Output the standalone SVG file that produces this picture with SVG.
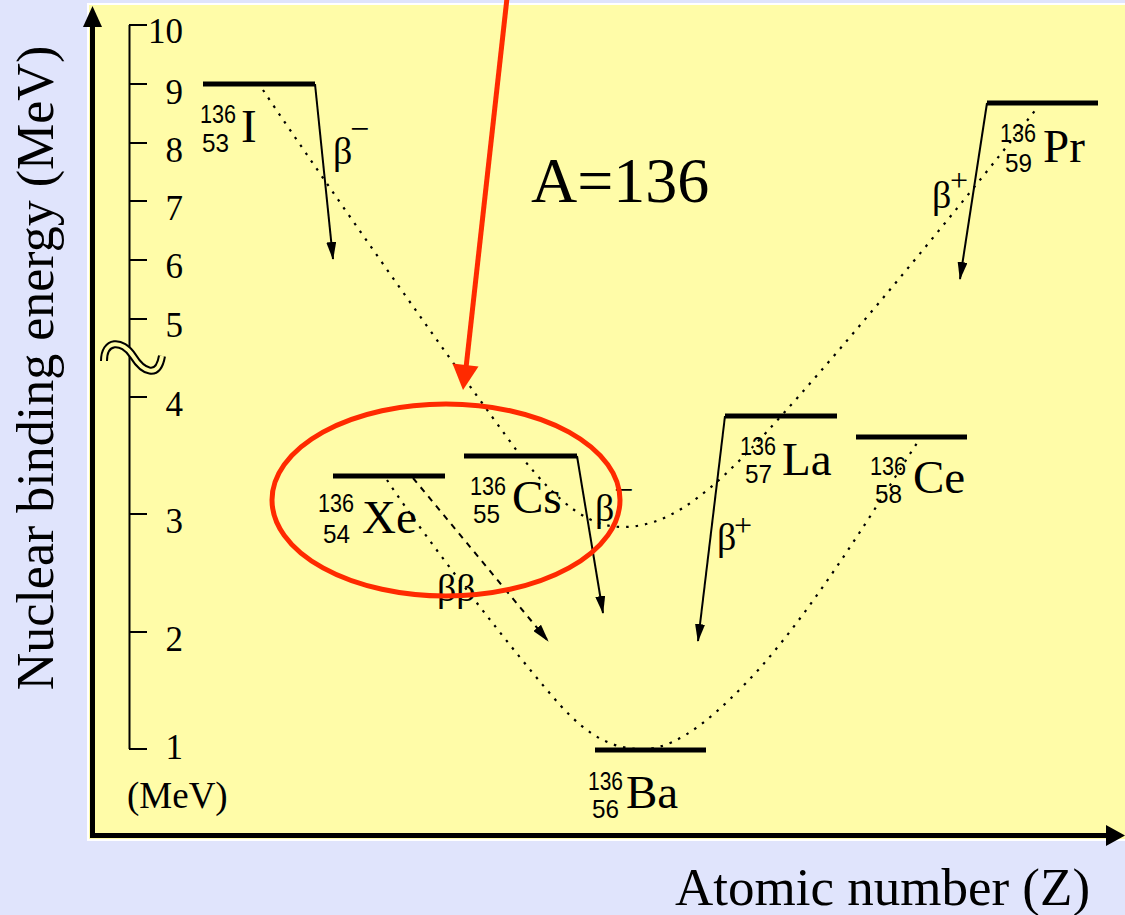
<svg xmlns="http://www.w3.org/2000/svg" width="1125" height="915" viewBox="0 0 1125 915">
<defs>
<style>
.lvl{stroke:#000;stroke-width:5;fill:none}
.dec{stroke:#000;stroke-width:2;fill:none}
.dot{stroke:#000;stroke-width:2.2;fill:none;stroke-dasharray:2.5 7}
.dash{stroke:#000;stroke-width:2;fill:none;stroke-dasharray:6 6}
.ax{stroke:#000;stroke-width:5;fill:none}
.sc{stroke:#000;stroke-width:2;fill:none}
.el{font-family:"Liberation Serif",serif;font-size:47px;fill:#000}
.iso{font-family:"Liberation Sans",sans-serif;font-size:25px;fill:#000}
.tk{font-family:"Liberation Serif",serif;font-size:35px;text-anchor:end;fill:#000}
.beta{font-family:"Liberation Serif",serif;font-size:38px;fill:#000}
.big{font-family:"Liberation Serif",serif;fill:#000}
.red{stroke:#ff2a00;stroke-width:5;fill:none}
</style>
<marker id="ah" markerUnits="userSpaceOnUse" markerWidth="18" markerHeight="10" refX="17" refY="5" orient="auto">
<path d="M0,0 L18,5 L0,10 z" fill="#000"/>
</marker>
</defs>
<rect x="0" y="0" width="1125" height="915" fill="#e0e4fc"/>
<rect x="88" y="4" width="1045" height="836" fill="#fffca8" stroke="#fff" stroke-width="2"/>

<g id="axes">
<line class="ax" x1="92.5" y1="838" x2="92.5" y2="22"/>
<polygon points="83,27 92.5,6 102,27" fill="#000"/>
<line class="ax" x1="90" y1="835.5" x2="1110" y2="835.5"/>
<polygon points="1106,825 1125,835.5 1106,846" fill="#000"/>
<text class="big" font-size="52" text-anchor="middle" transform="translate(53,368) rotate(-90)">Nuclear binding energy (MeV)</text>
<text class="big" font-size="53" x="675" y="905">Atomic number (Z)</text>
</g>

<g id="scale">
<line class="sc" x1="129.5" y1="25" x2="129.5" y2="749"/>
<line class="sc" x1="129" y1="25" x2="147" y2="25"/>
<line class="sc" x1="129" y1="84" x2="147" y2="84"/>
<line class="sc" x1="129" y1="143" x2="147" y2="143"/>
<line class="sc" x1="129" y1="201" x2="147" y2="201"/>
<line class="sc" x1="129" y1="260" x2="147" y2="260"/>
<line class="sc" x1="129" y1="319" x2="147" y2="319"/>
<line class="sc" x1="129" y1="397" x2="147" y2="397"/>
<line class="sc" x1="129" y1="514" x2="147" y2="514"/>
<line class="sc" x1="129" y1="632" x2="147" y2="632"/>
<line class="sc" x1="129" y1="749" x2="147" y2="749"/>
<text class="tk" x="183" y="43">10</text>
<text class="tk" x="183" y="104">9</text>
<text class="tk" x="183" y="162">8</text>
<text class="tk" x="183" y="220">7</text>
<text class="tk" x="183" y="278">6</text>
<text class="tk" x="183" y="337">5</text>
<text class="tk" x="183" y="416">4</text>
<text class="tk" x="183" y="533">3</text>
<text class="tk" x="183" y="651">2</text>
<text class="tk" x="183" y="759">1</text>
<text class="big" font-size="37" x="127" y="808">(MeV)</text>
<path d="M104,361 C104,340 122,339 133,356 C143,372 158,379 162,356" stroke="#000" stroke-width="8" fill="none"/>
<path d="M104,361 C104,340 122,339 133,356 C143,372 158,379 162,356" stroke="#fffca8" stroke-width="4" fill="none"/>
<text class="big" font-size="64" x="531" y="202">A=136</text>
</g>

<g id="connectors">
<path class="dot" d="M263,90 C330,190 450,360 520,455 C560,505 590,528 625,527 C665,526 700,500 740,460 C800,400 950,220 1037,108"/>
<path class="dot" d="M387,480 C430,545 520,660 560,705 C590,738 615,750 645,749 C680,748 720,712 760,668 C820,600 880,500 917,443"/>
<line class="dec" x1="315" y1="84" x2="333" y2="259" marker-end="url(#ah)"/>
<line class="dec" x1="577" y1="456" x2="603" y2="613" marker-end="url(#ah)"/>
<line class="dec" x1="725" y1="416" x2="698" y2="641" marker-end="url(#ah)"/>
<line class="dec" x1="987" y1="103" x2="960" y2="279" marker-end="url(#ah)"/>
<line class="dash" x1="413" y1="478" x2="548" y2="641" marker-end="url(#ah)"/>
<text class="beta" x="333" y="164">β<tspan x="350" y="140" font-size="34">−</tspan></text>
<text class="beta" x="595" y="521">β<tspan x="614" y="501" font-size="34">−</tspan></text>
<text class="beta" x="717" y="550">β<tspan x="734" y="536" font-size="32">+</tspan></text>
<text class="beta" x="932" y="208">β<tspan x="950" y="191" font-size="32">+</tspan></text>
<text class="beta" x="437" y="601">ββ</text>
</g>

<g id="I-136">
<line class="lvl" x1="203" y1="84" x2="315" y2="84"/>
<text class="iso" x="200" y="123" textLength="36" lengthAdjust="spacingAndGlyphs">136</text>
<text class="iso" x="202" y="152" textLength="27" lengthAdjust="spacingAndGlyphs">53</text>
<text class="el" x="241" y="142">I</text>
</g>
<g id="Xe-136">
<line class="lvl" x1="333" y1="476" x2="445" y2="476"/>
<text class="iso" x="318" y="512" textLength="36" lengthAdjust="spacingAndGlyphs">136</text>
<text class="iso" x="323" y="543" textLength="27" lengthAdjust="spacingAndGlyphs">54</text>
<text class="el" x="362" y="533">Xe</text>
</g>
<g id="Cs-136">
<line class="lvl" x1="464" y1="456" x2="577" y2="456"/>
<text class="iso" x="470" y="495" textLength="36" lengthAdjust="spacingAndGlyphs">136</text>
<text class="iso" x="473" y="523" textLength="27" lengthAdjust="spacingAndGlyphs">55</text>
<text class="el" x="512" y="513">Cs</text>
</g>
<g id="Ba-136">
<line class="lvl" x1="595" y1="750" x2="706" y2="750"/>
<text class="iso" x="588" y="790" textLength="35" lengthAdjust="spacingAndGlyphs">136</text>
<text class="iso" x="592" y="818" textLength="27" lengthAdjust="spacingAndGlyphs">56</text>
<text class="el" x="626" y="808">Ba</text>
</g>
<g id="La-136">
<line class="lvl" x1="725" y1="416" x2="837" y2="416"/>
<text class="iso" x="740" y="455" textLength="36" lengthAdjust="spacingAndGlyphs">136</text>
<text class="iso" x="745" y="483" textLength="27" lengthAdjust="spacingAndGlyphs">57</text>
<text class="el" x="782" y="475">La</text>
</g>
<g id="Ce-136">
<line class="lvl" x1="856" y1="437" x2="967" y2="437"/>
<text class="iso" x="870" y="475" textLength="36" lengthAdjust="spacingAndGlyphs">136</text>
<text class="iso" x="875" y="503" textLength="27" lengthAdjust="spacingAndGlyphs">58</text>
<text class="el" x="913" y="493">Ce</text>
</g>
<g id="Pr-136">
<line class="lvl" x1="987" y1="103" x2="1098" y2="103"/>
<text class="iso" x="1000" y="142" textLength="36" lengthAdjust="spacingAndGlyphs">136</text>
<text class="iso" x="1005" y="172" textLength="27" lengthAdjust="spacingAndGlyphs">59</text>
<text class="el" x="1043" y="162">Pr</text>
</g>

<g id="highlight">
<ellipse class="red" cx="446" cy="500" rx="174" ry="96"/>
<line class="red" x1="507" y1="-2" x2="466" y2="368"/>
<polygon points="463,390 452.5,363.5 478.5,366.5" fill="#ff2a00"/>
</g>
</svg>
